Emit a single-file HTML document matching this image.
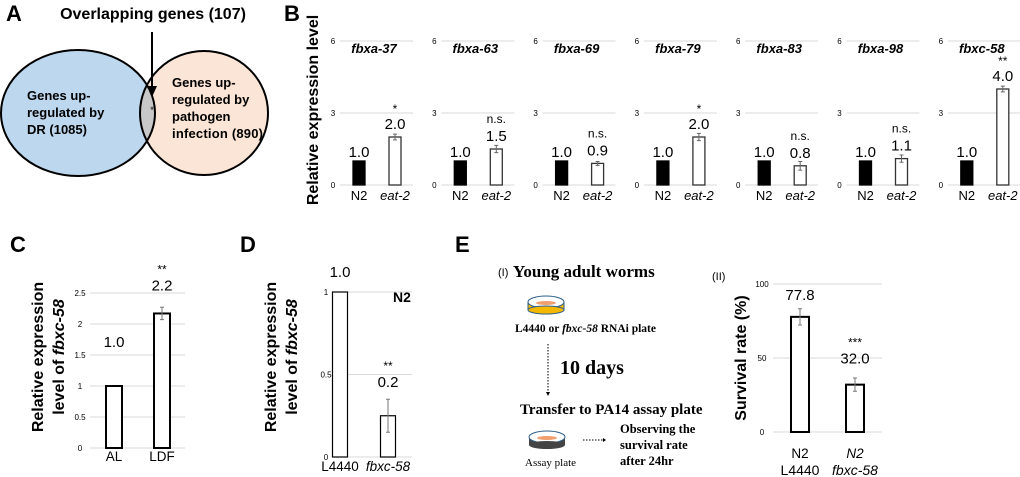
<!DOCTYPE html>
<html><head><meta charset="utf-8"><style>
body{margin:0;background:#fff}
svg{display:block;font-family:"Liberation Sans",sans-serif}
.serif{font-family:"Liberation Serif",serif;font-weight:bold}
</style></head><body>
<svg id="fig" width="1020" height="477" viewBox="0 0 1020 477">
<defs><clipPath id="clipBlue"><ellipse cx="78" cy="113" rx="77" ry="63"/></clipPath></defs>
<g>
<text x="6" y="21" font-size="22" font-weight="bold">A</text>
<text x="153" y="19" font-size="16" font-weight="bold" text-anchor="middle">Overlapping genes (107)</text>
<ellipse cx="78" cy="113" rx="77" ry="63" fill="#bdd7ee"/>
<ellipse cx="204" cy="113" rx="64" ry="62" fill="#fbe5d6"/>
<ellipse cx="204" cy="113" rx="64" ry="62" fill="#c8c8c8" clip-path="url(#clipBlue)"/>
<ellipse cx="78" cy="113" rx="77" ry="63" fill="none" stroke="#000" stroke-width="2"/>
<ellipse cx="204" cy="113" rx="64" ry="62" fill="none" stroke="#000" stroke-width="2"/>
<text x="152" y="113" font-size="9" text-anchor="middle">*</text>
<line x1="152" y1="32" x2="152" y2="88" stroke="#000" stroke-width="2"/>
<polygon points="147,86 157,86 152,97" fill="#000"/>
<g font-size="13" font-weight="bold"><text x="27" y="100">Genes up-</text><text x="27" y="117">regulated by</text><text x="27" y="134">DR (1085)</text></g>
<g font-size="13" font-weight="bold"><text x="172" y="87">Genes up-</text><text x="172" y="104">regulated by</text><text x="172" y="121">pathogen</text><text x="172" y="138" textLength="91">infection (890)</text></g>
</g>
<text x="284" y="21" font-size="22" font-weight="bold">B</text>
<text transform="translate(318,110) rotate(-90)" font-size="16" font-weight="bold" text-anchor="middle">Relative expression level</text>
<g id="panelB"></g>
<g>
<text x="10" y="252" font-size="22" font-weight="bold">C</text>
<text transform="translate(43,357) rotate(-90)" font-size="16" font-weight="bold" text-anchor="middle"><tspan x="0" dy="0">Relative expression</tspan><tspan x="0" dy="21">level of <tspan font-style="italic">fbxc-58</tspan></tspan></text>
<g id="panelC"></g></g>
<g>
<text x="240" y="252" font-size="22" font-weight="bold">D</text>
<text transform="translate(276,357) rotate(-90)" font-size="16" font-weight="bold" text-anchor="middle"><tspan x="0" dy="0">Relative expression</tspan><tspan x="0" dy="21">level of <tspan font-style="italic">fbxc-58</tspan></tspan></text>
<text x="402" y="302" font-size="14" font-weight="bold" text-anchor="middle">N2</text>
<g id="panelD"></g></g>
<g>
<text x="455" y="252" font-size="22" font-weight="bold">E</text>
<text x="498" y="276" font-size="11" font-family="Liberation Sans">(I)</text>
<text x="513" y="277" font-size="17" class="serif">Young adult worms</text>
<g><rect x="528" y="302" width="36" height="8" fill="#f5b800" stroke="#2e5f8a"/><ellipse cx="546" cy="302" rx="18" ry="6" fill="#fff" stroke="#2e5f8a"/><ellipse cx="546" cy="303" rx="10" ry="2" fill="#f0a070"/><ellipse cx="546" cy="310" rx="18" ry="4" fill="#f5b800" stroke="#2e5f8a"/></g>
<text x="515" y="332" font-size="11.5" class="serif">L4440 or <tspan font-style="italic">fbxc-58</tspan> RNAi plate</text>
<line x1="548" y1="344" x2="548" y2="392" stroke="#000" stroke-dasharray="1.5,1.5"/><polygon points="546,392 550,392 548,396" fill="#000"/>
<text x="560" y="374" font-size="20" class="serif">10 days</text>
<text x="520" y="414" font-size="15" class="serif">Transfer to PA14 assay plate</text>
<g><rect x="529" y="437" width="36" height="8" fill="#444"/><ellipse cx="547" cy="437" rx="18" ry="6" fill="#fff" stroke="#2e5f8a"/><ellipse cx="547" cy="438" rx="10" ry="2" fill="#f0a070"/><ellipse cx="547" cy="445" rx="18" ry="4" fill="#444"/></g>
<text x="525" y="466" font-size="11" font-family="Liberation Serif,serif">Assay plate</text>
<line x1="583" y1="440" x2="603" y2="440" stroke="#000" stroke-dasharray="1.5,1.5"/><polygon points="603,438 603,442 606,440" fill="#000"/>
<g font-size="12.5" class="serif"><text x="620" y="433">Observing the</text><text x="620" y="449">survival rate</text><text x="620" y="465">after 24hr</text></g>
<text x="712" y="280" font-size="11">(II)</text>
<text transform="translate(746,358) rotate(-90)" font-size="16" font-weight="bold" text-anchor="middle">Survival rate (%)</text>
<g id="panelE"></g></g>
</svg>
<script>
const NS="http://www.w3.org/2000/svg";
function el(parent,tag,attrs,text){const e=document.createElementNS(NS,tag);for(const k in attrs)e.setAttribute(k,attrs[k]);if(text!==undefined)e.textContent=text;parent.appendChild(e);return e;}
// Panel B data
const bGenes=["fbxa-37","fbxa-63","fbxa-69","fbxa-79","fbxa-83","fbxa-98","fbxc-58"];
const bN2=[1.0,1.0,1.0,1.0,1.0,1.0,1.0];
const bEat2=[2.0,1.5,0.9,2.0,0.8,1.1,4.0];
const bErr=[0.12,0.15,0.08,0.15,0.18,0.15,0.12];
const bSig=["*","n.s.","n.s.","*","n.s.","n.s.","**"];
const bTicks=[0,3,6];
const bCats=["N2","eat-2"];
// Panel C
const cCats=["AL","LDF"];const cVals=[1.0,2.17];const cErr=[0,0.1];const cLabels=["1.0","2.2"];const cSig=["","**"];const cTicks=[0,0.5,1,1.5,2,2.5];
// Panel D
const dCats=["L4440","fbxc-58"];const dVals=[1.0,0.25];const dErr=[0,0.1];const dLabels=["1.0","0.2"];const dSig=["","**"];const dTicks=[0,0.5,1];
// Panel E
const eCats1=["N2","N2"];const eCats2=["L4440","fbxc-58"];const eVals=[77.8,32.0];const eErr=[5.5,4.5];const eLabels=["77.8","32.0"];const eSig=["","***"];const eTicks=[0,50,100];

// Panel B
const gB=document.getElementById('panelB');
bGenes.forEach((g,i)=>{
  const ox=333+i*101.3;const y=v=>185-v*24;
  const sub=el(gB,'g',{});
  
  
  bTicks.forEach(t=>{el(sub,'line',{x1:ox+7,x2:ox+80,y1:y(t),y2:y(t),stroke:'#d9d9d9'});el(sub,'text',{x:ox,y:y(t)+3,'font-size':8,'text-anchor':'middle'},String(t));});
  el(sub,'text',{x:ox+41,y:53,'font-size':13,'font-weight':'bold','font-style':'italic','text-anchor':'middle'},g);
  const xs=[ox+26,ox+62];
  const vals=[bN2[i],bEat2[i]];
  vals.forEach((v,j)=>{
    const r=el(sub,'rect',{x:xs[j]-6,y:y(v),width:12,height:v*24,fill:j?'#fff':'#000',stroke:j?'#333':'#000','stroke-width':1.3});
    
    
    el(sub,'text',{x:xs[j],y:y(v)-(j?8:4),'font-size':15,'text-anchor':'middle'},v.toFixed(1));
    el(sub,'text',{x:xs[j],y:200,'font-size':13,'text-anchor':'middle','font-style':j?'italic':'normal'},bCats[j]);
  });
  const e=bErr[i],v=bEat2[i];
  el(sub,'path',{d:`M${xs[1]} ${y(v+e)}V${y(v-e)}M${xs[1]-2} ${y(v+e)}h4M${xs[1]-2} ${y(v-e)}h4`,stroke:'#666','stroke-width':1,fill:'none'});
  el(sub,'text',{x:xs[1],y:y(v)-(bSig[i]==='n.s.'?26:24),'font-size':12,'text-anchor':'middle'},bSig[i]);
});

function barChart(gid,o){
  const g=document.getElementById(gid);
  const y=v=>o.y0-v*o.sc;
  o.ticks.forEach(t=>{el(g,'line',{x1:o.gx1,x2:o.gx2,y1:y(t),y2:y(t),stroke:'#d9d9d9'});el(g,'text',{x:o.tx,y:y(t)+3,'font-size':8,'text-anchor':'middle'},String(t));});
  o.vals.forEach((v,j)=>{
    const cx=o.xs[j];
    const r=el(g,'rect',{x:cx-o.bw/2,y:y(v),width:o.bw,height:v*o.sc,fill:'#fff',stroke:'#000','stroke-width':o.sw});
    
    
    const e=o.err[j];
    if(e>0)el(g,'path',{d:`M${cx} ${y(v+e)}V${y(v-e)}M${cx-2} ${y(v+e)}h4M${cx-2} ${y(v-e)}h4`,stroke:'#777',fill:'none'});
    el(g,'text',{x:cx,y:y(v)+o.lblOff[j],'font-size':15,'text-anchor':'middle'},o.labels[j]);
    if(o.sig[j])el(g,'text',{x:cx,y:y(v)+o.lblOff[j]-17,'font-size':12,'text-anchor':'middle'},o.sig[j]);
    el(g,'text',{x:cx,y:o.xly,'font-size':13.5,'text-anchor':'middle','font-style':o.italic[j]?'italic':'normal'},o.cats[j]);
    if(o.cats2)el(g,'text',{x:cx,y:o.xly+17,'font-size':14,'text-anchor':'middle','font-style':o.italic[j]?'italic':'normal'},o.cats2[j]);
  });
}
barChart('panelC',{y0:448,sc:62,ticks:cTicks,gx1:90,gx2:185,tx:80,xs:[114,162],bw:16,sw:2,vals:cVals,err:cErr,labels:cLabels,sig:cSig,cats:cCats,italic:[0,0],lblOff:[-39,-23],xly:461});
barChart('panelD',{y0:457,sc:165,ticks:dTicks,gx1:332,gx2:412,tx:326,xs:[340,388],bw:15,sw:1.2,vals:dVals,err:dErr,labels:dLabels,sig:dSig,cats:dCats,italic:[0,1],lblOff:[-15,-29],xly:471});
barChart('panelE',{y0:432,sc:1.48,ticks:eTicks,gx1:773,gx2:882,tx:762,xs:[800,855],bw:18,sw:2,vals:eVals,err:eErr,labels:eLabels,sig:eSig,cats:eCats1,cats2:eCats2,italic:[0,1],lblOff:[-17,-21],xly:458});
</script>
</body></html>
